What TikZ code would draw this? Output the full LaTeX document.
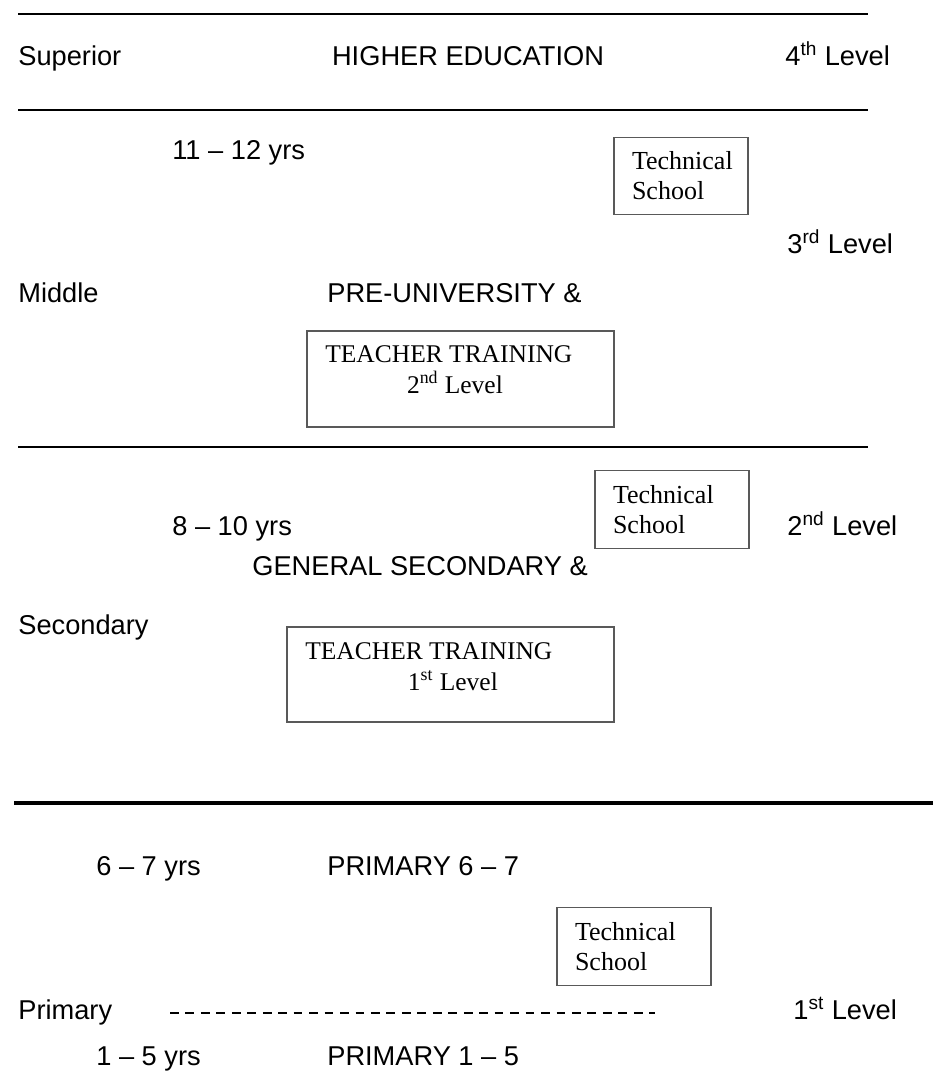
\documentclass[tikz,border=0pt]{standalone}
\usepackage{fontspec}
\setmainfont{Liberation Sans}
\newfontfamily\tnr{Liberation Serif}
\usetikzlibrary{positioning}

\tikzset{
  lbl/.style={anchor=base west,inner sep=0pt,font=\fontsize{15.5}{18}\selectfont},
  ctr/.style={anchor=base,inner sep=0pt,font=\fontsize{15.5}{18}\selectfont},
  sep/.style={line width=0.8pt},
  box/.style={draw=black!65,line width=0.7pt,inner sep=0pt},
  tech/.style={box,align=left,inner xsep=0.36cm,minimum height=1.55cm,font=\tnr\fontsize{14.8}{17}\selectfont},
  boxtxt/.style={anchor=base west,align=left,inner sep=0pt,font=\tnr\fontsize{14.5}{17.6}\selectfont}
}

\begin{document}
\begin{tikzpicture}[x=0.02cm,y=-0.02cm]
\useasboundingbox (0,0) rectangle (933,1090);
% separators between levels
\coordinate (s1a) at (18,14);  \coordinate (s1b) at (868,14);
\coordinate (s2a) at (18,110); \coordinate (s2b) at (868,110);
\coordinate (s3a) at (18,447); \coordinate (s3b) at (868,447);
\coordinate (s4a) at (14,803); \coordinate (s4b) at (933,803);
\draw[sep] (s1a)--(s1b); \draw[sep] (s2a)--(s2b); \draw[sep] (s3a)--(s3b);
\draw[line width=2.4pt] (s4a)--(s4b);
% superior
\node[lbl] (sup) at (18,65) {Superior};
\node[ctr] (he) at (468,65) {HIGHER EDUCATION};
\node[lbl] (l4) at (785,65) {4\textsuperscript{th} Level};
% middle
\node[lbl] (y1112) at (172,159) {11 -- 12 yrs};
\node[tech,text width=1.96cm] (ts1) at (681,176) {Technical\\School};
\node[lbl] (l3) at (787,253) {3\textsuperscript{rd} Level};
\node[lbl] (mid) at (18,302) {Middle};
\node[lbl] (pre) at (327,302) {PRE-UNIVERSITY \&};
\node[box,minimum width=6.14cm,minimum height=1.92cm] (tt2) at (460.5,379) {};
\node[boxtxt] (tt2t) at (325,393) {TEACHER TRAINING\\\hspace*{46.5pt}2\textsuperscript{nd} Level};
% secondary
\node[tech,text width=2.36cm] (ts2) at (672,509.5) {Technical\\School};
\node[lbl] (y810) at (172,535) {8 -- 10 yrs};
\node[lbl] (l2) at (787,535) {2\textsuperscript{nd} Level};
\node[lbl] (gen) at (252,575) {GENERAL SECONDARY \&};
\node[lbl] (sec) at (18,634) {Secondary};
\node[box,minimum width=6.54cm,minimum height=1.9cm] (tt1) at (450.5,674.5) {};
\node[boxtxt] (tt1t) at (305,690) {TEACHER TRAINING\\\hspace*{58.4pt}1\textsuperscript{st} Level};
% primary
\node[lbl] (y67) at (96,875) {6 -- 7 yrs};
\node[lbl] (p67) at (327,875) {PRIMARY 6 -- 7};
\node[tech,text width=2.36cm] (ts3) at (634,946.5) {Technical\\School};
\node[lbl] (pri) at (18,1019) {Primary};
\coordinate (da) at (170,1013); \coordinate (db) at (655,1013);
\draw[line width=0.7pt,dash pattern=on 5pt off 3.8pt] (da)--(db);
\node[lbl] (l1) at (793,1019) {1\textsuperscript{st} Level};
\node[lbl] (y15) at (96,1065) {1 -- 5 yrs};
\node[lbl] (p15) at (327,1065) {PRIMARY 1 -- 5};
\end{tikzpicture}
\end{document}
